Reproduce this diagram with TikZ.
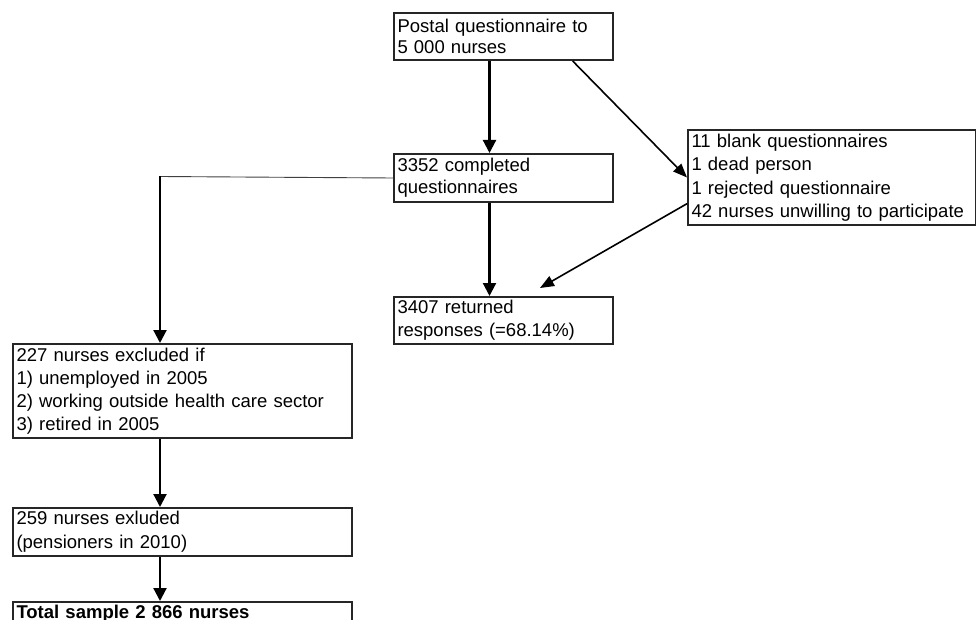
\documentclass[tikz,border=0pt]{standalone}
\usepackage{fontspec}
\setmainfont{Liberation Sans}
\usetikzlibrary{arrows.meta,calc}
\begin{document}
\begin{tikzpicture}[x=1pt,y=-1pt,
  box/.style={draw=black!85,line width=2pt,rectangle,anchor=north west,
    align=left,inner xsep=3.5pt,inner ysep=0pt},
  arr/.style={line width=2.2pt,-{Triangle[width=13pt,length=13pt]}},
  darr/.style={line width=1.6pt,-{Triangle[width=11pt,length=14pt]}},
  thinline/.style={line width=0.9pt,draw=black!75}]
\useasboundingbox (0,0) rectangle (976,620);
\clip (0,0) rectangle (976,620);
\node[box,minimum width=219pt,minimum height=47pt,text width=212pt,
  font=\fontsize{18.5}{20.6}\selectfont] (A) at (393,12)
  {Postal questionnaire to\\5 000 nurses};
\node[box,minimum width=219pt,minimum height=48pt,text width=212pt,
  font=\fontsize{18.5}{21.6}\selectfont] (B) at (393,153)
  {3352 completed\\questionnaires};
\node[box,minimum width=288pt,minimum height=95pt,text width=281pt,
  font=\fontsize{18.5}{23.5}\selectfont] (C) at (687,129)
  {11 blank questionnaires\\1 dead person\\1 rejected questionnaire\\42 nurses unwilling to participate};
\node[box,minimum width=219pt,minimum height=47pt,text width=212pt,
  font=\fontsize{18.5}{23.3}\selectfont] (D) at (393,296)
  {3407 returned\\responses (=68.14\%)};
\node[box,minimum width=339pt,minimum height=94pt,text width=332pt,
  font=\fontsize{18.5}{23}\selectfont] (E) at (12,343)
  {227 nurses excluded if\\1) unemployed in 2005\\2) working outside health care sector\\3) retired in 2005};
\node[box,minimum width=339pt,minimum height=48pt,text width=332pt,
  font=\fontsize{18.5}{24}\selectfont] (F) at (12,507)
  {259 nurses exluded\\(pensioners in 2010)};
\node[box,minimum width=339pt,text width=332pt,text height=16pt,text depth=14pt,
  font=\fontsize{18.5}{23}\selectfont\bfseries] (G) at (12,601)
  {Total sample 2 866 nurses};
\coordinate (cx) at (489.5,0);
\coordinate (k) at (160,176.5);
\draw[arr] (A.south -| cx) -- (B.north -| cx);
\draw[darr] ($(A.south west)!0.813!(A.south east)$) -- (C.west);
\draw[arr] (B.south -| cx) -- (D.north -| cx);
\draw[darr] ($(C.north west)!0.77!(C.south west)$) -- ($(D.north west)+(147,-8)$);
\draw[thinline] (B.west) -- (k);
\draw[arr] (k) -- (E.north -| k);
\draw[arr] (E.south -| k) -- (F.north -| k);
\draw[arr] (F.south -| k) -- (G.north -| k);
\end{tikzpicture}
\end{document}
